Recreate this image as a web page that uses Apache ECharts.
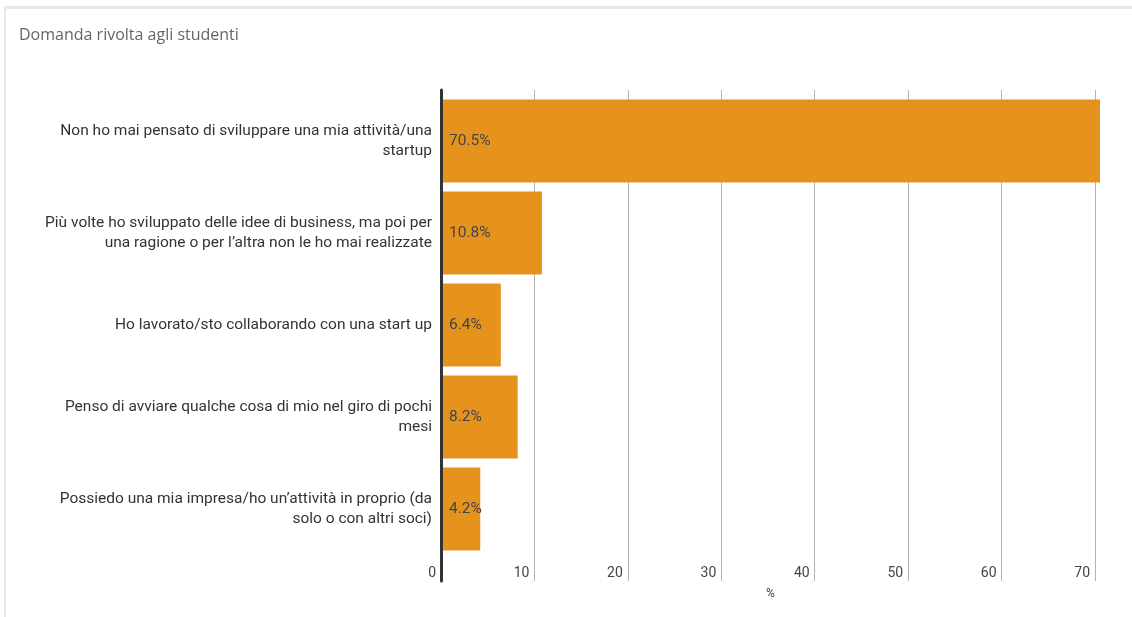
<!DOCTYPE html>
<html>
<head>
<meta charset="utf-8">
<script src="https://cdn.jsdelivr.net/npm/echarts@6/dist/echarts.min.js"></script>
<style>
  html, body { margin: 0; padding: 0; background: #fff; }
  #frame { position: absolute; left: 4px; top: 6px; width: 1140px; height: 620px;
           border-left: 2px solid #e8e8e8; border-top: 3px solid #e8e8e8; box-sizing: border-box; }
  #chart { position: absolute; left: 0; top: 0; width: 1132px; height: 617px; }
</style>
</head>
<body>
<div id="frame"></div>
<div id="chart"></div>
<script>
// Answers to the question put to the students (share of respondents, %)
const categories = [
  "Non ho mai pensato di sviluppare una mia attività/una\nstartup",
  "Più volte ho sviluppato delle idee di business, ma poi per\nuna ragione o per l’altra non le ho mai realizzate",
  "Ho lavorato/sto collaborando con una start up",
  "Penso di avviare qualche cosa di mio nel giro di pochi\nmesi",
  "Possiedo una mia impresa/ho un’attività in proprio (da\nsolo o con altri soci)"
];
const shares = [70.5, 10.8, 6.4, 8.2, 4.2];
const tickStep = 10;
const axisMax = 70.5;

const chart = echarts.init(document.getElementById('chart'), null, { renderer: 'canvas' });

chart.setOption({
  animation: false,
  backgroundColor: 'transparent',
  title: {
    text: 'Domanda rivolta agli studenti',
    left: 14, top: 22,
    textStyle: { fontFamily: 'Open Sans', fontSize: 16, fontWeight: 'normal', color: '#666' }
  },
  grid: [
    // bars
    { left: 441, right: 32, top: 95, height: 460, containLabel: false },
    // gridlines, tick labels and the zero line
    { left: 441, right: 37, top: 90, height: 491, containLabel: false }
  ],
  xAxis: [
    {
      gridIndex: 0, type: 'value', min: 0, max: axisMax,
      name: '%', nameLocation: 'middle', nameGap: 33,
      nameTextStyle: { fontFamily: 'Roboto', fontSize: 12, color: '#444' },
      axisLine: { show: false }, axisTick: { show: false },
      axisLabel: { show: false }, splitLine: { show: false }
    },
    {
      gridIndex: 1, type: 'value', min: 0, max: 70, interval: tickStep,
      axisLine: { show: false }, axisTick: { show: false },
      splitLine: { show: true, lineStyle: { color: '#b5b5b5', width: 1 } },
      axisLabel: {
        inside: true, margin: 1, align: 'right', verticalAlign: 'bottom',
        padding: [0, 5, 0, 0],
        fontFamily: 'Roboto', fontSize: 14, color: '#444'
      }
    }
  ],
  yAxis: [
    {
      gridIndex: 0, type: 'category', data: categories, inverse: true,
      axisLine: { show: false }, axisTick: { show: false },
      axisLabel: {
        margin: 9, fontFamily: 'Roboto', fontSize: 15.5, color: '#333',
        lineHeight: 20, align: 'right'
      }
    },
    {
      gridIndex: 1, type: 'value', z: 10,
      axisLine: { show: true, lineStyle: { color: '#333', width: 3 } },
      axisTick: { show: false }, axisLabel: { show: false }, splitLine: { show: false }
    }
  ],
  series: [{
    type: 'bar',
    xAxisIndex: 0, yAxisIndex: 0,
    data: shares,
    barCategoryGap: '10%',
    itemStyle: { color: '#E6931E' },
    label: {
      show: true, position: 'insideLeft', distance: 8,
      formatter: p => p.value + '%',
      fontFamily: 'Roboto', fontSize: 15.5, color: '#444'
    }
  }]
});
</script>
</body>
</html>
